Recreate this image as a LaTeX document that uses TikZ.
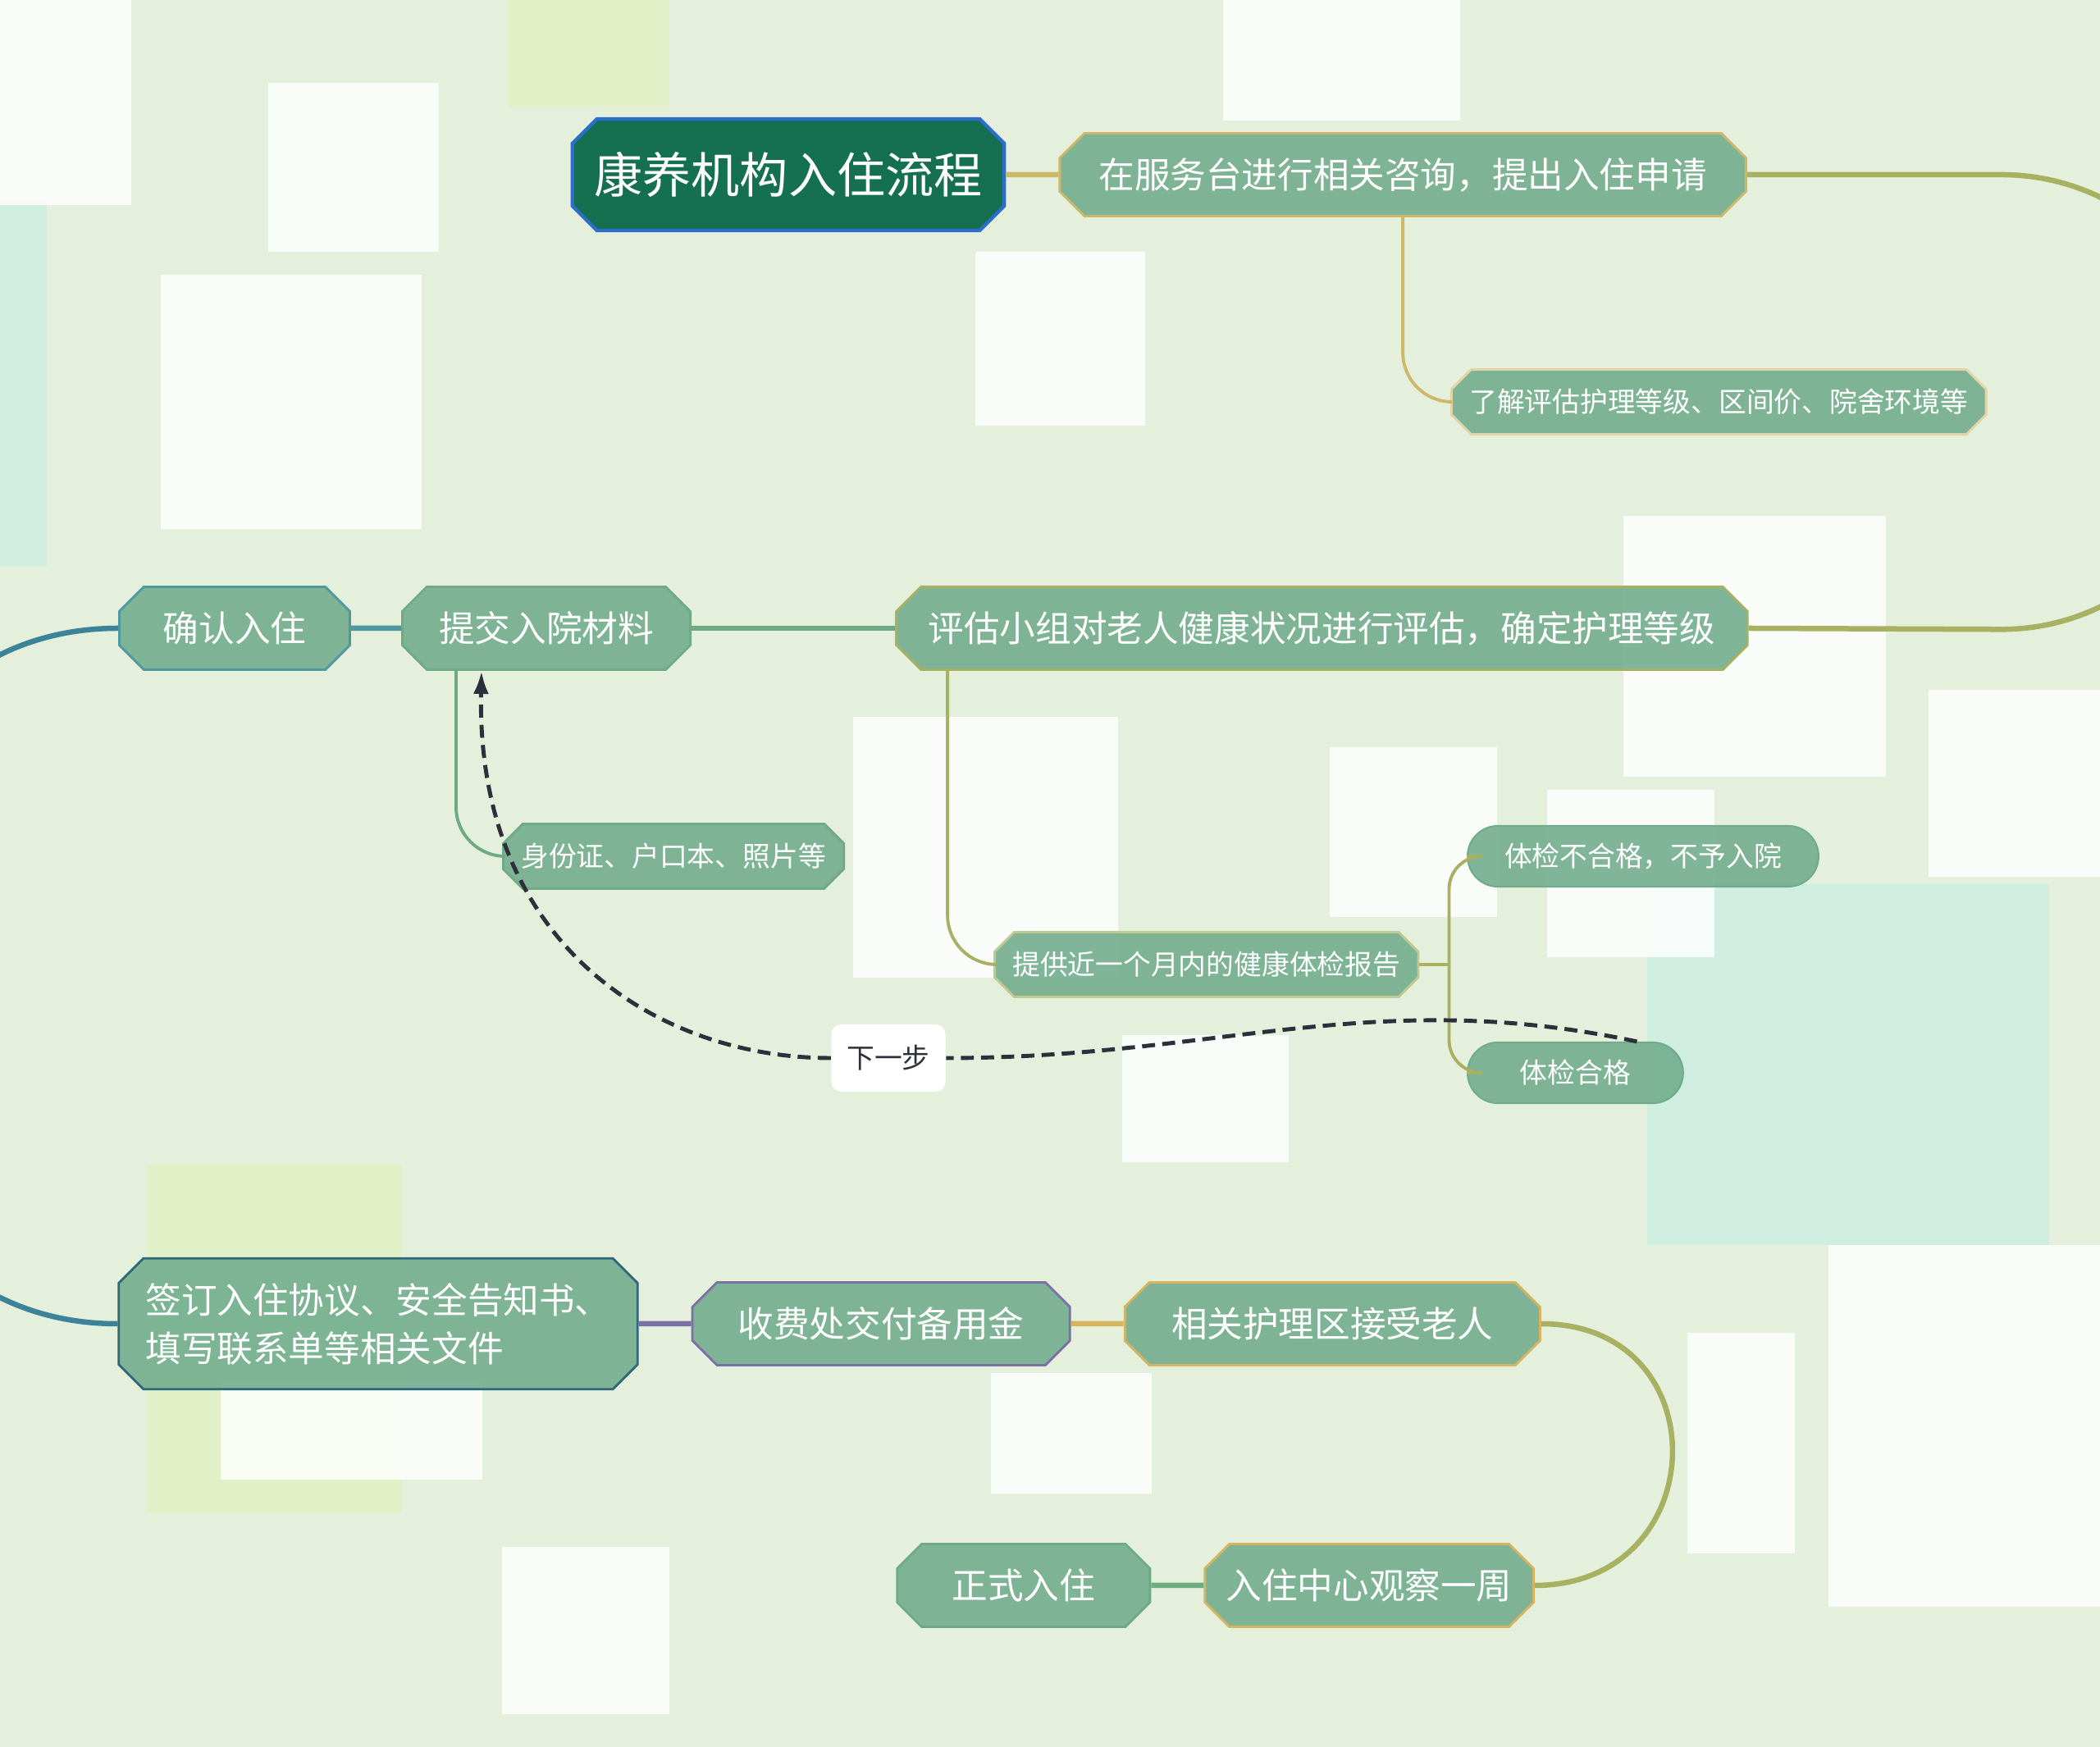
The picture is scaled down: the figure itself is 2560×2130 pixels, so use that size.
\documentclass[tikz,border=0pt]{standalone}
\usepackage{fontspec}
\setmainfont{Noto Sans CJK SC}
\usetikzlibrary{arrows.meta,positioning,shapes.misc}

\definecolor{pagebg}{RGB}{228,240,220}
\definecolor{limebg}{RGB}{226,240,200}
\definecolor{tealbg}{RGB}{208,237,226}
\definecolor{boxfill}{RGB}{112,172,140}
\definecolor{titlefill}{RGB}{20,112,80}
\definecolor{titleedge}{RGB}{45,110,205}
\definecolor{tanline}{RGB}{205,184,106}
\definecolor{oliveline}{RGB}{168,176,98}
\definecolor{greenline}{RGB}{110,170,130}
\definecolor{tealline}{RGB}{78,152,160}
\definecolor{blueline}{RGB}{60,130,152}
\definecolor{purpleline}{RGB}{122,112,166}
\definecolor{goldline}{RGB}{214,180,96}
\definecolor{stepdark}{RGB}{45,48,58}

\begin{document}
\begin{tikzpicture}[
x=0.01cm, y=0.01cm,
node distance=0.64cm,
headbox/.style={draw=titleedge, chamfered rectangle, chamfered rectangle xsep=0.12cm, chamfered rectangle ysep=0.18cm, fill=titlefill, text=white, line width=1.2pt, minimum width=5.24cm, minimum height=1.36cm, inner xsep=0.15cm, font=\fontsize{16.8}{20}\selectfont},
stage/.style={draw, chamfered rectangle, chamfered rectangle xsep=0.12cm, chamfered rectangle ysep=0.18cm, fill=boxfill, fill opacity=0.88, text opacity=1, text=white, line width=0.8pt, minimum height=1.01cm, inner xsep=0.14cm, font=\fontsize{12.4}{16.8}\selectfont},
leaf/.style={stage, minimum height=0.73cm, inner xsep=0.1cm, chamfered rectangle xsep=0.12cm, chamfered rectangle ysep=0.12cm, font=\fontsize{9.6}{12}\selectfont},
pill/.style={rounded rectangle, draw=boxfill, fill=boxfill, fill opacity=0.88, text opacity=1, text=white, line width=0.6pt, minimum height=0.74cm, font=\fontsize{9.6}{12}\selectfont},
steplabel/.style={fill=white, rounded corners=0.12cm, text=stepdark, minimum width=1.39cm, minimum height=0.82cm, font=\fontsize{9.6}{12}\selectfont},
mainline/.style={line width=1.85pt},
subline/.style={line width=1.1pt, rounded corners=0.6cm},
nextarrow/.style={-{Latex[length=2.8mm,width=1.9mm]}, dash pattern=on 4.5pt off 2.5pt, line width=1.4pt, draw=stepdark}
]
\fill[pagebg] (0,0) rectangle (2560,2130);
\clip (0,0) rectangle (2560,2130);
\fill[limebg] (180,285) rectangle (490,710);
\fill[limebg] (620,2000) rectangle (816,2130);
\fill[tealbg] (2008,612) rectangle (2498,1052);
\fill[tealbg] (0,1440) rectangle (57,1885);
\foreach \xa/\ya/\xb/\yb in {327/1823/535/2029, 196/1485/514/1795, 1189/1611/1396/1823, 1979/1183/2299/1501, 1040/938/1363/1256, 1621/1012/1825/1219, 1368/713/1571/868, 1886/963/2090/1167, 2351/1061/2560/1289, 2057/236/2188/505, 2229/171/2560/612, 269/326/588/448, 612/40/816/244, 1208/309/1404/456, 1491/1983/1780/2130, 0/1880/160/2130}
  \fill[white, opacity=0.85] (\xa,\ya) rectangle (\xb,\yb);

\node[headbox] (title) at (961,1917) {康养机构入住流程};
\node[stage, draw=tanline, minimum width=8.36cm, right=of title] (consult) {在服务台进行相关咨询，提出入住申请};
\node[leaf, draw=tanline!60, minimum width=6.45cm, anchor=west] (learn) at (1768,1640) {了解评估护理等级、区间价、院舍环境等};

\node[stage, draw=tealline, minimum width=2.81cm] (confirm) at (286,1364) {确认入住};
\node[stage, draw=greenline, minimum width=3.51cm, right=0.61cm of confirm] (submit) {提交入院材料};
\node[stage, draw=oliveline, minimum width=10.37cm, right=2.48cm of submit] (assess) {评估小组对老人健康状况进行评估，确定护理等级};

\node[leaf, draw=greenline, minimum width=4.08cm, anchor=west] (docs) at (612,1086) {身份证、户口本、照片等};
\node[leaf, draw=oliveline!70, minimum width=5.08cm, anchor=west] (report) at (1211,954) {提供近一个月内的健康体检报告};
\node[pill, minimum width=4.51cm, anchor=west] (fail) at (1788,1086) {体检不合格，不予入院};
\node[pill, minimum width=2.86cm, anchor=west] (pass) at (1788,822) {体检合格};

\node[stage, draw=blueline!80!black, minimum width=6.32cm, minimum height=1.58cm, align=left] (sign) at (461,516) {签订入住协议、安全告知书、\\填写联系单等相关文件};
\node[stage, draw=purpleline, minimum width=4.60cm, right=of sign] (pay) {收费处交付备用金};
\node[stage, draw=goldline, minimum width=5.06cm, right=of pay] (ward) {相关护理区接受老人};
\node[stage, draw=goldline, minimum width=3.98cm, anchor=east] (observe) at (1871,197) {入住中心观察一周};
\node[stage, draw=greenline, minimum width=3.08cm, left=of observe] (formal) {正式入住};

\node[steplabel] (nextstep) at (1083,840) {下一步};

\draw[mainline, tanline] (title) -- (consult);
\draw[mainline, oliveline] (consult.east) -- ++(310,0) arc[start angle=90, end angle=-90, radius=2.77cm] -- (assess.east);
\draw[mainline, greenline] (assess) -- (submit);
\draw[mainline, tealline] (submit) -- (confirm);
\draw[mainline, blueline] (confirm.west) to[out=180, in=180, looseness=1.4] (sign.west);
\draw[mainline, purpleline] (sign) -- (pay);
\draw[mainline, goldline] (pay) -- (ward);
\draw[mainline, oliveline] (ward.east) to[out=0, in=0, looseness=1.75] (observe.east);
\draw[mainline, greenline] (observe) -- (formal);

\draw[subline, tanline] (consult.south) |- (learn.west);
\draw[subline, greenline] ([xshift=-1.1cm]submit.south) |- (docs.west);
\draw[subline, oliveline] ([xshift=-4.56cm]assess.south) |- (report.west);
\draw[subline, oliveline] (report.east) -- ++(36,0) coordinate (fork);
\draw[subline, oliveline, rounded corners=0.4cm] (fork) |- (fail.west);
\draw[subline, oliveline, rounded corners=0.4cm] (fork) |- (pass.west);

\draw[nextarrow] ([xshift=0.75cm]pass.north) to[out=168, in=0] (nextstep.east) (nextstep.west) .. controls (800,840) and (580,980) .. ([xshift=-0.79cm]submit.south);
\end{tikzpicture}
\end{document}
